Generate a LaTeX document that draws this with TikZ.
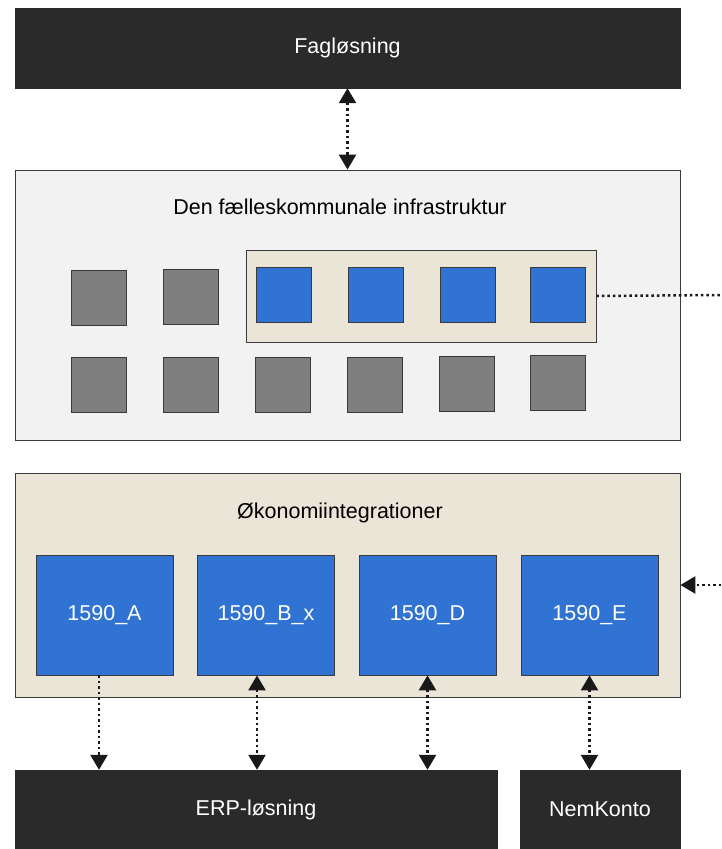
\documentclass[tikz,border=0pt]{standalone}
\usepackage{fontspec}
\setmainfont{Liberation Sans}
\usetikzlibrary{arrows.meta}
\definecolor{darkbox}{HTML}{2A2A2A}
\definecolor{infrafill}{HTML}{F2F2F2}
\definecolor{beige}{HTML}{EBE5D8}
\definecolor{moduleblue}{HTML}{3173D3}
\definecolor{modulegray}{HTML}{7F7F7F}
\definecolor{edgegray}{HTML}{3A3A3A}
\tikzset{
  link/.style={line width=2.5pt,dash pattern=on 2.5pt off 3pt,draw=black!90,
    arrows={-}, >={Triangle[width=17pt,length=15pt]}},
  module/.style={rectangle,draw=edgegray,line width=0.8pt,inner sep=0,minimum size=55pt},
}
\begin{document}
\begin{tikzpicture}[x=1pt,y=-1pt,font=\fontsize{21.5}{26}\selectfont]
\useasboundingbox (0,0) rectangle (721,849);

% containers
\node[rectangle,draw=edgegray,fill=infrafill,line width=0.8pt,minimum width=665pt,minimum height=270pt] (infra) at (347.5,305) {};
\node (infratitle) at (340,207) {Den fælleskommunale infrastruktur};
\node[rectangle,draw=edgegray,fill=beige,line width=0.8pt,minimum width=350pt,minimum height=92pt] (group) at (421,296) {};
\node[rectangle,draw=edgegray,fill=beige,line width=0.8pt,minimum width=665pt,minimum height=224pt] (okon) at (347.5,585) {};
\node (okontitle) at (340,513) {Økonomiintegrationer};

% systems
\begin{scope}[every node/.style={rectangle,draw=darkbox,fill=darkbox,text=white,inner sep=0}]
	\node[minimum width=665pt,minimum height=80pt] (fag) at (347.5,48) {Fagløsning};
	\node[minimum width=482pt,minimum height=79pt] (erp) at (256,809.5) {ERP-løsning};
	\node[minimum width=160pt,minimum height=79pt] (nem) at (600,809.5) {NemKonto};
\end{scope}

% infrastructure modules
\begin{scope}[every node/.style={module,fill=modulegray}]
	\node (g1) at (99,297.5) {};
	\node (g2) at (190.5,296.5) {};
	\node (h1) at (99,384.5) {};
	\node (h2) at (190.5,384.5) {};
	\node (h3) at (282.5,384.5) {};
	\node (h4) at (374.5,384.5) {};
	\node (h5) at (466.5,384) {};
	\node (h6) at (557.5,383) {};
\end{scope}
\begin{scope}[every node/.style={module,fill=moduleblue}]
	\node (b1) at (283.5,294.5) {};
	\node (b2) at (375.5,294.5) {};
	\node (b3) at (467.5,294.5) {};
	\node (b4) at (557.5,294.5) {};
\end{scope}

% integrations
\begin{scope}[every node/.style={module,fill=moduleblue,minimum width=137pt,minimum height=120pt,text=white}]
	\node (intA) at (104.5,615) {1590\_A};
	\node (intB) at (266,615) {1590\_B\_x};
	\node (intD) at (427.5,615) {1590\_D};
	\node (intE) at (589.5,615) {1590\_E};
\end{scope}

\coordinate (outtop) at (721,295);
\coordinate (outmid) at (721,585);

% connections
\begin{scope}
	\draw[link,<->] (fag.south) -- (infra.north);
	\draw[link] (group.east) -- (outtop);
	\draw[link,->] (outmid) -- (okon.east);
	\draw[link,->] ([xshift=-5.5pt]intA.south) -- ([xshift=-5.5pt]intA.south |- erp.north);
	\draw[link,<->] ([xshift=-9pt]intB.south) -- ([xshift=-9pt]intB.south |- erp.north);
	\draw[link,<->] (intD.south) -- (intD.south |- erp.north);
	\draw[link,<->] (intE.south) -- (intE.south |- nem.north);
\end{scope}
\end{tikzpicture}
\end{document}
